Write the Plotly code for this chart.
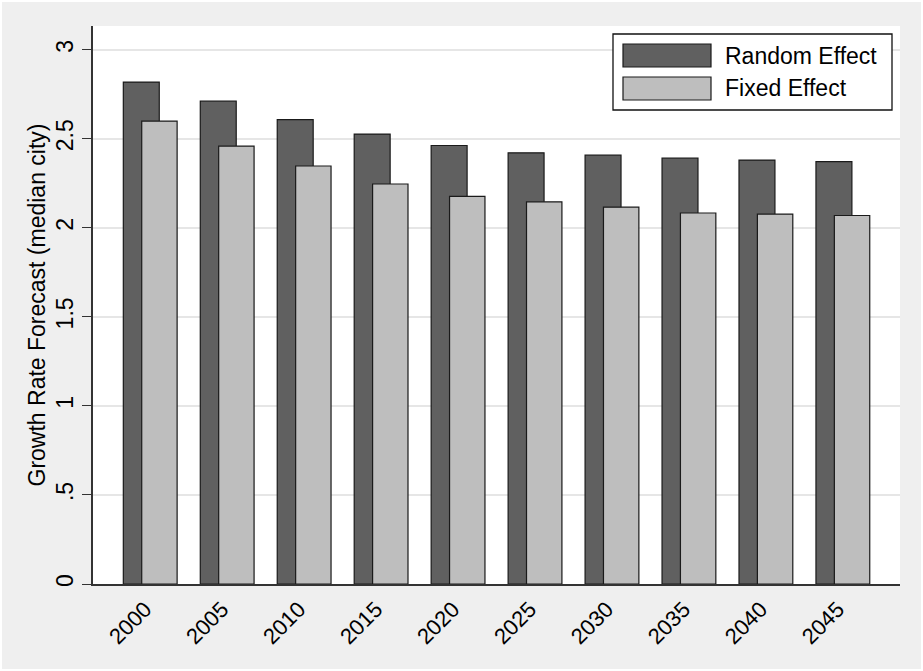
import plotly.graph_objects as go

years = ["2000", "2005", "2010", "2015", "2020", "2025", "2030", "2035", "2040", "2045"]
random_effect = [2.818, 2.711, 2.607, 2.526, 2.462, 2.421, 2.408, 2.391, 2.380, 2.371]
fixed_effect = [2.599, 2.459, 2.347, 2.246, 2.176, 2.146, 2.116, 2.083, 2.077, 2.069]
series_names = ["Random Effect", "Fixed Effect"]
y_tick_vals = [0, 0.5, 1, 1.5, 2, 2.5, 3]
y_tick_text = ["0", ".5", "1", "1.5", "2", "2.5", "3"]

DARK = "#606060"
LIGHT = "#BEBEBE"
BG = "#EFEFEF"
FONT = "Liberation Sans, Arial, sans-serif"
FS = 23

fig = go.Figure()
fig.add_trace(go.Bar(
    x=years, y=random_effect, name=series_names[0],
    offset=-0.349, width=0.467,
    marker=dict(color=DARK, line=dict(color="#1a1a1a", width=1.2)),
    showlegend=False,
))
fig.add_trace(go.Bar(
    x=years, y=fixed_effect, name=series_names[1],
    offset=-0.110, width=0.46,
    marker=dict(color=LIGHT, line=dict(color="#1a1a1a", width=1.2)),
    showlegend=False,
))

W, H = 923, 671
L, R, T, B = 93, 23, 26, 87
pw, ph = W - L - R, H - T - B

def px_x(v):
    return (v - L) / pw

def px_y(v):
    return (H - B - v) / ph

shapes = []
# thin white frame around the whole figure
shapes.append(dict(type="rect", xref="paper", yref="paper",
                   x0=px_x(1), x1=px_x(W - 1), y0=px_y(H - 1), y1=px_y(1),
                   line=dict(color="white", width=2), fillcolor="rgba(0,0,0,0)", layer="above"))
# custom legend box
lx0, lx1, ly0, ly1 = 613, 892, 34, 110
shapes.append(dict(type="rect", xref="paper", yref="paper",
                   x0=px_x(lx0), x1=px_x(lx1), y0=px_y(ly1), y1=px_y(ly0),
                   line=dict(color="#111111", width=1.3), fillcolor="white", layer="above"))
swatches = [(44, 67, DARK), (77, 100, LIGHT)]
annotations = []
for (sy0, sy1, col), name in zip(swatches, series_names):
    shapes.append(dict(type="rect", xref="paper", yref="paper",
                       x0=px_x(623), x1=px_x(711), y0=px_y(sy1), y1=px_y(sy0),
                       line=dict(color="#1a1a1a", width=1.2), fillcolor=col, layer="above"))
    annotations.append(dict(xref="paper", yref="paper", x=px_x(723), y=px_y((sy0 + sy1) / 2),
                            text=name, showarrow=False, xanchor="left", yanchor="middle",
                            font=dict(family=FONT, size=FS, color="black")))

fig.update_layout(
    width=W, height=H,
    margin=dict(l=L, r=R, t=T, b=B, pad=0, autoexpand=False),
    paper_bgcolor=BG, plot_bgcolor="white",
    barmode="overlay",
    font=dict(family=FONT, size=FS, color="black"),
    shapes=shapes, annotations=annotations,
    xaxis=dict(
        type="category", range=[-0.743, 9.743], automargin=False,
        tickangle=-45, ticks="", showgrid=False,
        ticklabelshift=-5, ticklabelstandoff=2,
        showline=True, linecolor="#333333", linewidth=1.5,
        tickfont=dict(size=22), zeroline=False,
    ),
    yaxis=dict(
        range=[0, 3.133], tickvals=y_tick_vals, ticktext=y_tick_text, automargin=False,
        tickangle=-90, ticks="outside", ticklen=9, tickwidth=1.3, tickcolor="#333333",
        showline=True, linecolor="#333333", linewidth=1.5,
        showgrid=True, gridcolor="#E6E6E6", gridwidth=1.5, zeroline=False,
        tickfont=dict(size=FS),
        title=dict(text="Growth Rate Forecast (median city)", font=dict(size=FS), standoff=0),
    ),
)

fig.write_html(
    "out.html",
    config={"displayModeBar": False},
    post_script="document.body.style.margin='0';document.body.style.overflow='hidden';",
)
